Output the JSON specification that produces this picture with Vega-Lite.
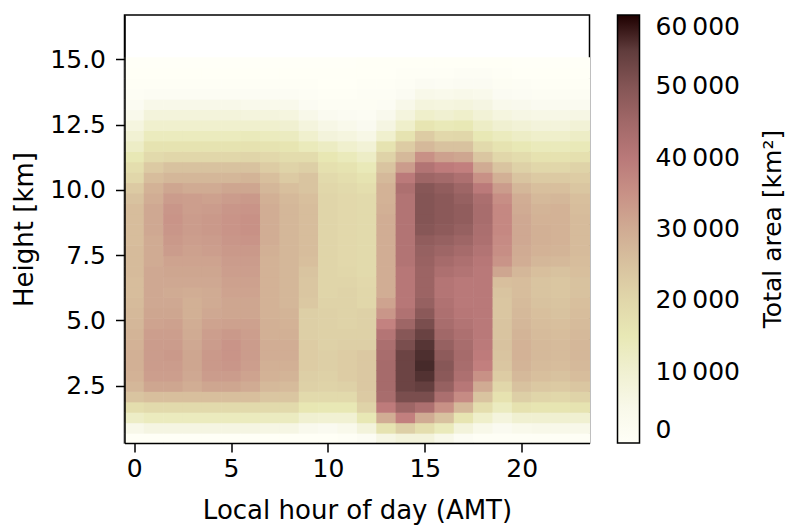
{
"$schema": "https://vega.github.io/schema/vega-lite/v6.json",
"width": 465, "height": 428,
"autosize": "none",
"padding": {"left": 124.5, "top": 15, "right": 214.5, "bottom": 84},
"background": "white",
"config": {
 "font": "DejaVu Sans",
 "view": {"stroke": "black", "strokeWidth": 1.5},
 "axis": {"grid": false, "domainColor": "black", "domainWidth": 1.5, "tickColor": "black", "tickWidth": 1.5, "tickSize": 9, "labelFontSize": 25, "labelColor": "black", "titleFontSize": 26, "titleColor": "black", "titleFontWeight": "normal", "labelFont": "DejaVu Sans", "titleFont": "DejaVu Sans"}
},
"data": {"values": [
{"hour":0,"height":0.5,"area":500},{"hour":0,"height":0.9,"area":5000},{"hour":0,"height":1.3,"area":12000},{"hour":0,"height":1.7,"area":18000},{"hour":0,"height":2.1,"area":24500},{"hour":0,"height":2.5,"area":27500},{"hour":0,"height":2.9,"area":28500},{"hour":0,"height":3.3,"area":29000},{"hour":0,"height":3.7,"area":29000},{"hour":0,"height":4.1,"area":28500},{"hour":0,"height":4.5,"area":28000},{"hour":0,"height":4.9,"area":27500},{"hour":0,"height":5.3,"area":27000},{"hour":0,"height":5.7,"area":26500},{"hour":0,"height":6.1,"area":26000},{"hour":0,"height":6.5,"area":26000},{"hour":0,"height":6.9,"area":26500},{"hour":0,"height":7.3,"area":26500},{"hour":0,"height":7.7,"area":26500},{"hour":0,"height":8.1,"area":26000},{"hour":0,"height":8.5,"area":26000},{"hour":0,"height":8.9,"area":26000},{"hour":0,"height":9.3,"area":26000},{"hour":0,"height":9.7,"area":25000},{"hour":0,"height":10.1,"area":23000},{"hour":0,"height":10.5,"area":20000},{"hour":0,"height":10.9,"area":18000},{"hour":0,"height":11.3,"area":15000},{"hour":0,"height":11.7,"area":12000},{"hour":0,"height":12.1,"area":9500},{"hour":0,"height":12.5,"area":7000},{"hour":0,"height":12.9,"area":4500},{"hour":0,"height":13.3,"area":3000},{"hour":0,"height":13.7,"area":1500},{"hour":0,"height":14.1,"area":800},{"hour":0,"height":14.5,"area":300},{"hour":0,"height":14.9,"area":0},
{"hour":1,"height":0.5,"area":500},{"hour":1,"height":0.9,"area":6500},{"hour":1,"height":1.3,"area":13500},{"hour":1,"height":1.7,"area":19000},{"hour":1,"height":2.1,"area":25500},{"hour":1,"height":2.5,"area":31000},{"hour":1,"height":2.9,"area":32500},{"hour":1,"height":3.3,"area":33000},{"hour":1,"height":3.7,"area":33000},{"hour":1,"height":4.1,"area":33000},{"hour":1,"height":4.5,"area":32500},{"hour":1,"height":4.9,"area":31500},{"hour":1,"height":5.3,"area":31000},{"hour":1,"height":5.7,"area":30500},{"hour":1,"height":6.1,"area":30500},{"hour":1,"height":6.5,"area":30500},{"hour":1,"height":6.9,"area":30500},{"hour":1,"height":7.3,"area":30000},{"hour":1,"height":7.7,"area":30000},{"hour":1,"height":8.1,"area":30000},{"hour":1,"height":8.5,"area":30500},{"hour":1,"height":8.9,"area":30500},{"hour":1,"height":9.3,"area":30500},{"hour":1,"height":9.7,"area":29500},{"hour":1,"height":10.1,"area":28500},{"hour":1,"height":10.5,"area":26000},{"hour":1,"height":10.9,"area":23000},{"hour":1,"height":11.3,"area":19000},{"hour":1,"height":11.7,"area":16500},{"hour":1,"height":12.1,"area":13500},{"hour":1,"height":12.5,"area":10500},{"hour":1,"height":12.9,"area":8000},{"hour":1,"height":13.3,"area":5000},{"hour":1,"height":13.7,"area":2500},{"hour":1,"height":14.1,"area":1000},{"hour":1,"height":14.5,"area":300},{"hour":1,"height":14.9,"area":0},
{"hour":2,"height":0.5,"area":500},{"hour":2,"height":0.9,"area":6500},{"hour":2,"height":1.3,"area":13500},{"hour":2,"height":1.7,"area":19000},{"hour":2,"height":2.1,"area":25500},{"hour":2,"height":2.5,"area":31000},{"hour":2,"height":2.9,"area":32500},{"hour":2,"height":3.3,"area":33000},{"hour":2,"height":3.7,"area":33500},{"hour":2,"height":4.1,"area":33000},{"hour":2,"height":4.5,"area":32500},{"hour":2,"height":4.9,"area":32000},{"hour":2,"height":5.3,"area":31000},{"hour":2,"height":5.7,"area":30500},{"hour":2,"height":6.1,"area":30000},{"hour":2,"height":6.5,"area":30500},{"hour":2,"height":6.9,"area":31000},{"hour":2,"height":7.3,"area":31500},{"hour":2,"height":7.7,"area":33000},{"hour":2,"height":8.1,"area":33500},{"hour":2,"height":8.5,"area":34000},{"hour":2,"height":8.9,"area":34500},{"hour":2,"height":9.3,"area":34000},{"hour":2,"height":9.7,"area":33000},{"hour":2,"height":10.1,"area":31000},{"hour":2,"height":10.5,"area":27500},{"hour":2,"height":10.9,"area":25000},{"hour":2,"height":11.3,"area":20000},{"hour":2,"height":11.7,"area":16500},{"hour":2,"height":12.1,"area":13500},{"hour":2,"height":12.5,"area":10500},{"hour":2,"height":12.9,"area":8000},{"hour":2,"height":13.3,"area":5000},{"hour":2,"height":13.7,"area":2500},{"hour":2,"height":14.1,"area":1000},{"hour":2,"height":14.5,"area":300},{"hour":2,"height":14.9,"area":0},
{"hour":3,"height":0.5,"area":500},{"hour":3,"height":0.9,"area":6500},{"hour":3,"height":1.3,"area":13500},{"hour":3,"height":1.7,"area":19000},{"hour":3,"height":2.1,"area":25500},{"hour":3,"height":2.5,"area":29500},{"hour":3,"height":2.9,"area":30500},{"hour":3,"height":3.3,"area":31000},{"hour":3,"height":3.7,"area":31000},{"hour":3,"height":4.1,"area":30500},{"hour":3,"height":4.5,"area":30000},{"hour":3,"height":4.9,"area":29500},{"hour":3,"height":5.3,"area":29000},{"hour":3,"height":5.7,"area":29000},{"hour":3,"height":6.1,"area":29500},{"hour":3,"height":6.5,"area":30500},{"hour":3,"height":6.9,"area":31000},{"hour":3,"height":7.3,"area":31500},{"hour":3,"height":7.7,"area":32000},{"hour":3,"height":8.1,"area":32500},{"hour":3,"height":8.5,"area":33000},{"hour":3,"height":8.9,"area":33000},{"hour":3,"height":9.3,"area":32500},{"hour":3,"height":9.7,"area":32500},{"hour":3,"height":10.1,"area":30000},{"hour":3,"height":10.5,"area":27500},{"hour":3,"height":10.9,"area":25000},{"hour":3,"height":11.3,"area":20000},{"hour":3,"height":11.7,"area":16500},{"hour":3,"height":12.1,"area":13500},{"hour":3,"height":12.5,"area":10500},{"hour":3,"height":12.9,"area":8000},{"hour":3,"height":13.3,"area":5000},{"hour":3,"height":13.7,"area":2500},{"hour":3,"height":14.1,"area":1000},{"hour":3,"height":14.5,"area":300},{"hour":3,"height":14.9,"area":0},
{"hour":4,"height":0.5,"area":500},{"hour":4,"height":0.9,"area":6500},{"hour":4,"height":1.3,"area":13500},{"hour":4,"height":1.7,"area":19000},{"hour":4,"height":2.1,"area":25500},{"hour":4,"height":2.5,"area":31000},{"hour":4,"height":2.9,"area":33000},{"hour":4,"height":3.3,"area":33500},{"hour":4,"height":3.7,"area":33500},{"hour":4,"height":4.1,"area":33000},{"hour":4,"height":4.5,"area":32500},{"hour":4,"height":4.9,"area":31500},{"hour":4,"height":5.3,"area":30500},{"hour":4,"height":5.7,"area":30000},{"hour":4,"height":6.1,"area":30000},{"hour":4,"height":6.5,"area":30500},{"hour":4,"height":6.9,"area":31000},{"hour":4,"height":7.3,"area":31500},{"hour":4,"height":7.7,"area":32500},{"hour":4,"height":8.1,"area":33000},{"hour":4,"height":8.5,"area":33500},{"hour":4,"height":8.9,"area":33500},{"hour":4,"height":9.3,"area":33000},{"hour":4,"height":9.7,"area":32000},{"hour":4,"height":10.1,"area":30000},{"hour":4,"height":10.5,"area":27500},{"hour":4,"height":10.9,"area":25000},{"hour":4,"height":11.3,"area":20000},{"hour":4,"height":11.7,"area":16500},{"hour":4,"height":12.1,"area":13500},{"hour":4,"height":12.5,"area":10500},{"hour":4,"height":12.9,"area":8000},{"hour":4,"height":13.3,"area":5000},{"hour":4,"height":13.7,"area":2500},{"hour":4,"height":14.1,"area":1000},{"hour":4,"height":14.5,"area":300},{"hour":4,"height":14.9,"area":0},
{"hour":5,"height":0.5,"area":500},{"hour":5,"height":0.9,"area":6500},{"hour":5,"height":1.3,"area":13500},{"hour":5,"height":1.7,"area":19000},{"hour":5,"height":2.1,"area":25500},{"hour":5,"height":2.5,"area":31000},{"hour":5,"height":2.9,"area":33000},{"hour":5,"height":3.3,"area":34000},{"hour":5,"height":3.7,"area":34500},{"hour":5,"height":4.1,"area":34500},{"hour":5,"height":4.5,"area":33500},{"hour":5,"height":4.9,"area":32000},{"hour":5,"height":5.3,"area":31000},{"hour":5,"height":5.7,"area":31000},{"hour":5,"height":6.1,"area":31500},{"hour":5,"height":6.5,"area":32000},{"hour":5,"height":6.9,"area":32500},{"hour":5,"height":7.3,"area":33000},{"hour":5,"height":7.7,"area":33500},{"hour":5,"height":8.1,"area":34000},{"hour":5,"height":8.5,"area":34500},{"hour":5,"height":8.9,"area":34500},{"hour":5,"height":9.3,"area":34000},{"hour":5,"height":9.7,"area":33000},{"hour":5,"height":10.1,"area":31000},{"hour":5,"height":10.5,"area":27500},{"hour":5,"height":10.9,"area":25000},{"hour":5,"height":11.3,"area":20000},{"hour":5,"height":11.7,"area":16500},{"hour":5,"height":12.1,"area":13500},{"hour":5,"height":12.5,"area":10500},{"hour":5,"height":12.9,"area":8000},{"hour":5,"height":13.3,"area":5000},{"hour":5,"height":13.7,"area":2500},{"hour":5,"height":14.1,"area":1000},{"hour":5,"height":14.5,"area":300},{"hour":5,"height":14.9,"area":0},
{"hour":6,"height":0.5,"area":500},{"hour":6,"height":0.9,"area":6500},{"hour":6,"height":1.3,"area":13500},{"hour":6,"height":1.7,"area":19000},{"hour":6,"height":2.1,"area":25500},{"hour":6,"height":2.5,"area":30000},{"hour":6,"height":2.9,"area":31500},{"hour":6,"height":3.3,"area":32500},{"hour":6,"height":3.7,"area":33000},{"hour":6,"height":4.1,"area":33000},{"hour":6,"height":4.5,"area":32500},{"hour":6,"height":4.9,"area":32000},{"hour":6,"height":5.3,"area":31000},{"hour":6,"height":5.7,"area":31000},{"hour":6,"height":6.1,"area":31500},{"hour":6,"height":6.5,"area":32000},{"hour":6,"height":6.9,"area":32500},{"hour":6,"height":7.3,"area":33000},{"hour":6,"height":7.7,"area":33500},{"hour":6,"height":8.1,"area":34500},{"hour":6,"height":8.5,"area":35000},{"hour":6,"height":8.9,"area":35000},{"hour":6,"height":9.3,"area":34500},{"hour":6,"height":9.7,"area":33500},{"hour":6,"height":10.1,"area":31000},{"hour":6,"height":10.5,"area":28000},{"hour":6,"height":10.9,"area":25000},{"hour":6,"height":11.3,"area":20500},{"hour":6,"height":11.7,"area":17000},{"hour":6,"height":12.1,"area":14000},{"hour":6,"height":12.5,"area":10500},{"hour":6,"height":12.9,"area":7500},{"hour":6,"height":13.3,"area":4500},{"hour":6,"height":13.7,"area":2500},{"hour":6,"height":14.1,"area":1000},{"hour":6,"height":14.5,"area":300},{"hour":6,"height":14.9,"area":0},
{"hour":7,"height":0.5,"area":500},{"hour":7,"height":0.9,"area":6000},{"hour":7,"height":1.3,"area":13000},{"hour":7,"height":1.7,"area":19000},{"hour":7,"height":2.1,"area":24000},{"hour":7,"height":2.5,"area":27000},{"hour":7,"height":2.9,"area":28500},{"hour":7,"height":3.3,"area":29000},{"hour":7,"height":3.7,"area":29500},{"hour":7,"height":4.1,"area":29500},{"hour":7,"height":4.5,"area":29000},{"hour":7,"height":4.9,"area":29000},{"hour":7,"height":5.3,"area":28500},{"hour":7,"height":5.7,"area":28500},{"hour":7,"height":6.1,"area":28500},{"hour":7,"height":6.5,"area":28500},{"hour":7,"height":6.9,"area":28500},{"hour":7,"height":7.3,"area":28500},{"hour":7,"height":7.7,"area":29000},{"hour":7,"height":8.1,"area":29500},{"hour":7,"height":8.5,"area":29500},{"hour":7,"height":8.9,"area":29500},{"hour":7,"height":9.3,"area":29500},{"hour":7,"height":9.7,"area":29000},{"hour":7,"height":10.1,"area":27500},{"hour":7,"height":10.5,"area":25500},{"hour":7,"height":10.9,"area":22500},{"hour":7,"height":11.3,"area":19500},{"hour":7,"height":11.7,"area":16500},{"hour":7,"height":12.1,"area":13500},{"hour":7,"height":12.5,"area":10500},{"hour":7,"height":12.9,"area":7500},{"hour":7,"height":13.3,"area":4500},{"hour":7,"height":13.7,"area":2500},{"hour":7,"height":14.1,"area":1000},{"hour":7,"height":14.5,"area":300},{"hour":7,"height":14.9,"area":0},
{"hour":8,"height":0.5,"area":500},{"hour":8,"height":0.9,"area":6000},{"hour":8,"height":1.3,"area":13000},{"hour":8,"height":1.7,"area":19000},{"hour":8,"height":2.1,"area":24000},{"hour":8,"height":2.5,"area":26500},{"hour":8,"height":2.9,"area":28000},{"hour":8,"height":3.3,"area":29000},{"hour":8,"height":3.7,"area":29500},{"hour":8,"height":4.1,"area":29500},{"hour":8,"height":4.5,"area":29000},{"hour":8,"height":4.9,"area":28500},{"hour":8,"height":5.3,"area":28000},{"hour":8,"height":5.7,"area":27500},{"hour":8,"height":6.1,"area":27500},{"hour":8,"height":6.5,"area":27500},{"hour":8,"height":6.9,"area":27500},{"hour":8,"height":7.3,"area":27500},{"hour":8,"height":7.7,"area":27500},{"hour":8,"height":8.1,"area":27500},{"hour":8,"height":8.5,"area":27500},{"hour":8,"height":8.9,"area":27500},{"hour":8,"height":9.3,"area":27500},{"hour":8,"height":9.7,"area":27000},{"hour":8,"height":10.1,"area":25500},{"hour":8,"height":10.5,"area":23000},{"hour":8,"height":10.9,"area":21000},{"hour":8,"height":11.3,"area":18500},{"hour":8,"height":11.7,"area":16000},{"hour":8,"height":12.1,"area":13000},{"hour":8,"height":12.5,"area":10000},{"hour":8,"height":12.9,"area":7000},{"hour":8,"height":13.3,"area":4500},{"hour":8,"height":13.7,"area":2500},{"hour":8,"height":14.1,"area":1000},{"hour":8,"height":14.5,"area":300},{"hour":8,"height":14.9,"area":0},
{"hour":9,"height":0.5,"area":500},{"hour":9,"height":0.9,"area":4000},{"hour":9,"height":1.3,"area":10000},{"hour":9,"height":1.7,"area":15500},{"hour":9,"height":2.1,"area":19000},{"hour":9,"height":2.5,"area":21500},{"hour":9,"height":2.9,"area":22000},{"hour":9,"height":3.3,"area":22500},{"hour":9,"height":3.7,"area":22500},{"hour":9,"height":4.1,"area":22500},{"hour":9,"height":4.5,"area":22000},{"hour":9,"height":4.9,"area":22000},{"hour":9,"height":5.3,"area":22000},{"hour":9,"height":5.7,"area":23500},{"hour":9,"height":6.1,"area":24000},{"hour":9,"height":6.5,"area":24000},{"hour":9,"height":6.9,"area":24500},{"hour":9,"height":7.3,"area":25500},{"hour":9,"height":7.7,"area":26000},{"hour":9,"height":8.1,"area":26000},{"hour":9,"height":8.5,"area":26000},{"hour":9,"height":8.9,"area":26000},{"hour":9,"height":9.3,"area":26000},{"hour":9,"height":9.7,"area":25500},{"hour":9,"height":10.1,"area":24500},{"hour":9,"height":10.5,"area":24500},{"hour":9,"height":10.9,"area":22000},{"hour":9,"height":11.3,"area":18500},{"hour":9,"height":11.7,"area":14000},{"hour":9,"height":12.1,"area":10500},{"hour":9,"height":12.5,"area":7500},{"hour":9,"height":12.9,"area":5000},{"hour":9,"height":13.3,"area":3000},{"hour":9,"height":13.7,"area":1500},{"hour":9,"height":14.1,"area":700},{"hour":9,"height":14.5,"area":200},{"hour":9,"height":14.9,"area":0},
{"hour":10,"height":0.5,"area":500},{"hour":10,"height":0.9,"area":3500},{"hour":10,"height":1.3,"area":9500},{"hour":10,"height":1.7,"area":15000},{"hour":10,"height":2.1,"area":19000},{"hour":10,"height":2.5,"area":21000},{"hour":10,"height":2.9,"area":21500},{"hour":10,"height":3.3,"area":22000},{"hour":10,"height":3.7,"area":22000},{"hour":10,"height":4.1,"area":21500},{"hour":10,"height":4.5,"area":21500},{"hour":10,"height":4.9,"area":21500},{"hour":10,"height":5.3,"area":21500},{"hour":10,"height":5.7,"area":21000},{"hour":10,"height":6.1,"area":20500},{"hour":10,"height":6.5,"area":20500},{"hour":10,"height":6.9,"area":20500},{"hour":10,"height":7.3,"area":20500},{"hour":10,"height":7.7,"area":20500},{"hour":10,"height":8.1,"area":20500},{"hour":10,"height":8.5,"area":20500},{"hour":10,"height":8.9,"area":20500},{"hour":10,"height":9.3,"area":20500},{"hour":10,"height":9.7,"area":20500},{"hour":10,"height":10.1,"area":20000},{"hour":10,"height":10.5,"area":19000},{"hour":10,"height":10.9,"area":17500},{"hour":10,"height":11.3,"area":15500},{"hour":10,"height":11.7,"area":12500},{"hour":10,"height":12.1,"area":8000},{"hour":10,"height":12.5,"area":5500},{"hour":10,"height":12.9,"area":3500},{"hour":10,"height":13.3,"area":2000},{"hour":10,"height":13.7,"area":1200},{"hour":10,"height":14.1,"area":600},{"hour":10,"height":14.5,"area":200},{"hour":10,"height":14.9,"area":0},
{"hour":11,"height":0.5,"area":1000},{"hour":11,"height":0.9,"area":4500},{"hour":11,"height":1.3,"area":9500},{"hour":11,"height":1.7,"area":15000},{"hour":11,"height":2.1,"area":19000},{"hour":11,"height":2.5,"area":21500},{"hour":11,"height":2.9,"area":22500},{"hour":11,"height":3.3,"area":22500},{"hour":11,"height":3.7,"area":22500},{"hour":11,"height":4.1,"area":22000},{"hour":11,"height":4.5,"area":21500},{"hour":11,"height":4.9,"area":21000},{"hour":11,"height":5.3,"area":21000},{"hour":11,"height":5.7,"area":21000},{"hour":11,"height":6.1,"area":21000},{"hour":11,"height":6.5,"area":20500},{"hour":11,"height":6.9,"area":20000},{"hour":11,"height":7.3,"area":19500},{"hour":11,"height":7.7,"area":19500},{"hour":11,"height":8.1,"area":19500},{"hour":11,"height":8.5,"area":19500},{"hour":11,"height":8.9,"area":19500},{"hour":11,"height":9.3,"area":19500},{"hour":11,"height":9.7,"area":19500},{"hour":11,"height":10.1,"area":19000},{"hour":11,"height":10.5,"area":18000},{"hour":11,"height":10.9,"area":16500},{"hour":11,"height":11.3,"area":14000},{"hour":11,"height":11.7,"area":10500},{"hour":11,"height":12.1,"area":7000},{"hour":11,"height":12.5,"area":4500},{"hour":11,"height":12.9,"area":3000},{"hour":11,"height":13.3,"area":2000},{"hour":11,"height":13.7,"area":1200},{"hour":11,"height":14.1,"area":600},{"hour":11,"height":14.5,"area":200},{"hour":11,"height":14.9,"area":0},
{"hour":12,"height":0.5,"area":2500},{"hour":12,"height":0.9,"area":8000},{"hour":12,"height":1.3,"area":15000},{"hour":12,"height":1.7,"area":21000},{"hour":12,"height":2.1,"area":23000},{"hour":12,"height":2.5,"area":23500},{"hour":12,"height":2.9,"area":23500},{"hour":12,"height":3.3,"area":23500},{"hour":12,"height":3.7,"area":23500},{"hour":12,"height":4.1,"area":22000},{"hour":12,"height":4.5,"area":21500},{"hour":12,"height":4.9,"area":21500},{"hour":12,"height":5.3,"area":21500},{"hour":12,"height":5.7,"area":20000},{"hour":12,"height":6.1,"area":20000},{"hour":12,"height":6.5,"area":19500},{"hour":12,"height":6.9,"area":19000},{"hour":12,"height":7.3,"area":19000},{"hour":12,"height":7.7,"area":19000},{"hour":12,"height":8.1,"area":19000},{"hour":12,"height":8.5,"area":19000},{"hour":12,"height":8.9,"area":19000},{"hour":12,"height":9.3,"area":19000},{"hour":12,"height":9.7,"area":19000},{"hour":12,"height":10.1,"area":18000},{"hour":12,"height":10.5,"area":16500},{"hour":12,"height":10.9,"area":14500},{"hour":12,"height":11.3,"area":12000},{"hour":12,"height":11.7,"area":9000},{"hour":12,"height":12.1,"area":5500},{"hour":12,"height":12.5,"area":3500},{"hour":12,"height":12.9,"area":2500},{"hour":12,"height":13.3,"area":2000},{"hour":12,"height":13.7,"area":1500},{"hour":12,"height":14.1,"area":1000},{"hour":12,"height":14.5,"area":400},{"hour":12,"height":14.9,"area":100},
{"hour":13,"height":0.5,"area":6000},{"hour":13,"height":0.9,"area":16500},{"hour":13,"height":1.3,"area":29500},{"hour":13,"height":1.7,"area":39000},{"hour":13,"height":2.1,"area":43500},{"hour":13,"height":2.5,"area":44000},{"hour":13,"height":2.9,"area":44000},{"hour":13,"height":3.3,"area":44000},{"hour":13,"height":3.7,"area":43500},{"hour":13,"height":4.1,"area":43000},{"hour":13,"height":4.5,"area":41000},{"hour":13,"height":4.9,"area":37500},{"hour":13,"height":5.3,"area":34000},{"hour":13,"height":5.7,"area":31500},{"hour":13,"height":6.1,"area":29500},{"hour":13,"height":6.5,"area":29500},{"hour":13,"height":6.9,"area":29500},{"hour":13,"height":7.3,"area":29500},{"hour":13,"height":7.7,"area":29500},{"hour":13,"height":8.1,"area":29500},{"hour":13,"height":8.5,"area":29500},{"hour":13,"height":8.9,"area":29500},{"hour":13,"height":9.3,"area":29000},{"hour":13,"height":9.7,"area":28500},{"hour":13,"height":10.1,"area":28500},{"hour":13,"height":10.5,"area":27000},{"hour":13,"height":10.9,"area":24500},{"hour":13,"height":11.3,"area":21000},{"hour":13,"height":11.7,"area":16500},{"hour":13,"height":12.1,"area":10500},{"hour":13,"height":12.5,"area":6500},{"hour":13,"height":12.9,"area":4000},{"hour":13,"height":13.3,"area":2500},{"hour":13,"height":13.7,"area":1500},{"hour":13,"height":14.1,"area":800},{"hour":13,"height":14.5,"area":300},{"hour":13,"height":14.9,"area":100},
{"hour":14,"height":0.5,"area":8000},{"hour":14,"height":0.9,"area":22000},{"hour":14,"height":1.3,"area":38000},{"hour":14,"height":1.7,"area":45500},{"hour":14,"height":2.1,"area":51500},{"hour":14,"height":2.5,"area":53500},{"hour":14,"height":2.9,"area":53500},{"hour":14,"height":3.3,"area":53500},{"hour":14,"height":3.7,"area":53500},{"hour":14,"height":4.1,"area":51500},{"hour":14,"height":4.5,"area":49500},{"hour":14,"height":4.9,"area":45500},{"hour":14,"height":5.3,"area":42000},{"hour":14,"height":5.7,"area":40500},{"hour":14,"height":6.1,"area":40500},{"hour":14,"height":6.5,"area":40500},{"hour":14,"height":6.9,"area":40500},{"hour":14,"height":7.3,"area":41500},{"hour":14,"height":7.7,"area":41500},{"hour":14,"height":8.1,"area":41500},{"hour":14,"height":8.5,"area":41500},{"hour":14,"height":8.9,"area":41500},{"hour":14,"height":9.3,"area":41500},{"hour":14,"height":9.7,"area":41500},{"hour":14,"height":10.1,"area":42500},{"hour":14,"height":10.5,"area":39500},{"hour":14,"height":10.9,"area":33000},{"hour":14,"height":11.3,"area":27000},{"hour":14,"height":11.7,"area":22500},{"hour":14,"height":12.1,"area":16500},{"hour":14,"height":12.5,"area":11000},{"hour":14,"height":12.9,"area":7500},{"hour":14,"height":13.3,"area":5000},{"hour":14,"height":13.7,"area":3000},{"hour":14,"height":14.1,"area":1800},{"hour":14,"height":14.5,"area":700},{"hour":14,"height":14.9,"area":200},
{"hour":15,"height":0.5,"area":8000},{"hour":15,"height":0.9,"area":18000},{"hour":15,"height":1.3,"area":30000},{"hour":15,"height":1.7,"area":42500},{"hour":15,"height":2.1,"area":51500},{"hour":15,"height":2.5,"area":54500},{"hour":15,"height":2.9,"area":56500},{"hour":15,"height":3.3,"area":57500},{"hour":15,"height":3.7,"area":57000},{"hour":15,"height":4.1,"area":56000},{"hour":15,"height":4.5,"area":54000},{"hour":15,"height":4.9,"area":51500},{"hour":15,"height":5.3,"area":49000},{"hour":15,"height":5.7,"area":47000},{"hour":15,"height":6.1,"area":46000},{"hour":15,"height":6.5,"area":46000},{"hour":15,"height":6.9,"area":46000},{"hour":15,"height":7.3,"area":46500},{"hour":15,"height":7.7,"area":47000},{"hour":15,"height":8.1,"area":48000},{"hour":15,"height":8.5,"area":49500},{"hour":15,"height":8.9,"area":50000},{"hour":15,"height":9.3,"area":50000},{"hour":15,"height":9.7,"area":50000},{"hour":15,"height":10.1,"area":49500},{"hour":15,"height":10.5,"area":45500},{"hour":15,"height":10.9,"area":41500},{"hour":15,"height":11.3,"area":35000},{"hour":15,"height":11.7,"area":27000},{"hour":15,"height":12.1,"area":22500},{"hour":15,"height":12.5,"area":16000},{"hour":15,"height":12.9,"area":11000},{"hour":15,"height":13.3,"area":7500},{"hour":15,"height":13.7,"area":5000},{"hour":15,"height":14.1,"area":3000},{"hour":15,"height":14.5,"area":1200},{"hour":15,"height":14.9,"area":400},
{"hour":16,"height":0.5,"area":5000},{"hour":16,"height":0.9,"area":14000},{"hour":16,"height":1.3,"area":25000},{"hour":16,"height":1.7,"area":35000},{"hour":16,"height":2.1,"area":43000},{"hour":16,"height":2.5,"area":47000},{"hour":16,"height":2.9,"area":49000},{"hour":16,"height":3.3,"area":49500},{"hour":16,"height":3.7,"area":48500},{"hour":16,"height":4.1,"area":47000},{"hour":16,"height":4.5,"area":45000},{"hour":16,"height":4.9,"area":43500},{"hour":16,"height":5.3,"area":42500},{"hour":16,"height":5.7,"area":42000},{"hour":16,"height":6.1,"area":41000},{"hour":16,"height":6.5,"area":41000},{"hour":16,"height":6.9,"area":42500},{"hour":16,"height":7.3,"area":44000},{"hour":16,"height":7.7,"area":45500},{"hour":16,"height":8.1,"area":47000},{"hour":16,"height":8.5,"area":48500},{"hour":16,"height":8.9,"area":49000},{"hour":16,"height":9.3,"area":49000},{"hour":16,"height":9.7,"area":49000},{"hour":16,"height":10.1,"area":48000},{"hour":16,"height":10.5,"area":44500},{"hour":16,"height":10.9,"area":39000},{"hour":16,"height":11.3,"area":32000},{"hour":16,"height":11.7,"area":25000},{"hour":16,"height":12.1,"area":19500},{"hour":16,"height":12.5,"area":14500},{"hour":16,"height":12.9,"area":10000},{"hour":16,"height":13.3,"area":7000},{"hour":16,"height":13.7,"area":4500},{"hour":16,"height":14.1,"area":2500},{"hour":16,"height":14.5,"area":1000},{"hour":16,"height":14.9,"area":300},
{"hour":17,"height":0.5,"area":2500},{"hour":17,"height":0.9,"area":8000},{"hour":17,"height":1.3,"area":16000},{"hour":17,"height":1.7,"area":27000},{"hour":17,"height":2.1,"area":36000},{"hour":17,"height":2.5,"area":40500},{"hour":17,"height":2.9,"area":42500},{"hour":17,"height":3.3,"area":43500},{"hour":17,"height":3.7,"area":44000},{"hour":17,"height":4.1,"area":43500},{"hour":17,"height":4.5,"area":42500},{"hour":17,"height":4.9,"area":41500},{"hour":17,"height":5.3,"area":40500},{"hour":17,"height":5.7,"area":40000},{"hour":17,"height":6.1,"area":40000},{"hour":17,"height":6.5,"area":40000},{"hour":17,"height":6.9,"area":41500},{"hour":17,"height":7.3,"area":42500},{"hour":17,"height":7.7,"area":44000},{"hour":17,"height":8.1,"area":45500},{"hour":17,"height":8.5,"area":47000},{"hour":17,"height":8.9,"area":48000},{"hour":17,"height":9.3,"area":48000},{"hour":17,"height":9.7,"area":47000},{"hour":17,"height":10.1,"area":45500},{"hour":17,"height":10.5,"area":42500},{"hour":17,"height":10.9,"area":38000},{"hour":17,"height":11.3,"area":31000},{"hour":17,"height":11.7,"area":25000},{"hour":17,"height":12.1,"area":20000},{"hour":17,"height":12.5,"area":15000},{"hour":17,"height":12.9,"area":11000},{"hour":17,"height":13.3,"area":7500},{"hour":17,"height":13.7,"area":5000},{"hour":17,"height":14.1,"area":3000},{"hour":17,"height":14.5,"area":1500},{"hour":17,"height":14.9,"area":500},
{"hour":18,"height":0.5,"area":1000},{"hour":18,"height":0.9,"area":5000},{"hour":18,"height":1.3,"area":11000},{"hour":18,"height":1.7,"area":18000},{"hour":18,"height":2.1,"area":24500},{"hour":18,"height":2.5,"area":30000},{"hour":18,"height":2.9,"area":35000},{"hour":18,"height":3.3,"area":38000},{"hour":18,"height":3.7,"area":39000},{"hour":18,"height":4.1,"area":39500},{"hour":18,"height":4.5,"area":40000},{"hour":18,"height":4.9,"area":40000},{"hour":18,"height":5.3,"area":40000},{"hour":18,"height":5.7,"area":40000},{"hour":18,"height":6.1,"area":40000},{"hour":18,"height":6.5,"area":40000},{"hour":18,"height":6.9,"area":40000},{"hour":18,"height":7.3,"area":40500},{"hour":18,"height":7.7,"area":41500},{"hour":18,"height":8.1,"area":42500},{"hour":18,"height":8.5,"area":43000},{"hour":18,"height":8.9,"area":43500},{"hour":18,"height":9.3,"area":43500},{"hour":18,"height":9.7,"area":43000},{"hour":18,"height":10.1,"area":39500},{"hour":18,"height":10.5,"area":35000},{"hour":18,"height":10.9,"area":30000},{"hour":18,"height":11.3,"area":24000},{"hour":18,"height":11.7,"area":19000},{"hour":18,"height":12.1,"area":15000},{"hour":18,"height":12.5,"area":12000},{"hour":18,"height":12.9,"area":9000},{"hour":18,"height":13.3,"area":6500},{"hour":18,"height":13.7,"area":4500},{"hour":18,"height":14.1,"area":3000},{"hour":18,"height":14.5,"area":1500},{"hour":18,"height":14.9,"area":500},
{"hour":19,"height":0.5,"area":800},{"hour":19,"height":0.9,"area":3500},{"hour":19,"height":1.3,"area":7500},{"hour":19,"height":1.7,"area":13000},{"hour":19,"height":2.1,"area":17000},{"hour":19,"height":2.5,"area":20000},{"hour":19,"height":2.9,"area":22500},{"hour":19,"height":3.3,"area":24000},{"hour":19,"height":3.7,"area":24500},{"hour":19,"height":4.1,"area":25000},{"hour":19,"height":4.5,"area":24500},{"hour":19,"height":4.9,"area":24500},{"hour":19,"height":5.3,"area":24000},{"hour":19,"height":5.7,"area":24000},{"hour":19,"height":6.1,"area":24500},{"hour":19,"height":6.5,"area":25500},{"hour":19,"height":6.9,"area":31000},{"hour":19,"height":7.3,"area":34500},{"hour":19,"height":7.7,"area":35500},{"hour":19,"height":8.1,"area":36000},{"hour":19,"height":8.5,"area":36500},{"hour":19,"height":8.9,"area":36500},{"hour":19,"height":9.3,"area":36500},{"hour":19,"height":9.7,"area":35500},{"hour":19,"height":10.1,"area":33000},{"hour":19,"height":10.5,"area":29000},{"hour":19,"height":10.9,"area":24500},{"hour":19,"height":11.3,"area":20000},{"hour":19,"height":11.7,"area":16500},{"hour":19,"height":12.1,"area":13500},{"hour":19,"height":12.5,"area":10000},{"hour":19,"height":12.9,"area":7000},{"hour":19,"height":13.3,"area":4500},{"hour":19,"height":13.7,"area":3000},{"hour":19,"height":14.1,"area":2000},{"hour":19,"height":14.5,"area":1000},{"hour":19,"height":14.9,"area":300},
{"hour":20,"height":0.5,"area":1000},{"hour":20,"height":0.9,"area":4500},{"hour":20,"height":1.3,"area":10000},{"hour":20,"height":1.7,"area":17000},{"hour":20,"height":2.1,"area":22000},{"hour":20,"height":2.5,"area":25000},{"hour":20,"height":2.9,"area":27000},{"hour":20,"height":3.3,"area":28000},{"hour":20,"height":3.7,"area":28500},{"hour":20,"height":4.1,"area":28500},{"hour":20,"height":4.5,"area":28000},{"hour":20,"height":4.9,"area":27500},{"hour":20,"height":5.3,"area":27000},{"hour":20,"height":5.7,"area":26500},{"hour":20,"height":6.1,"area":26000},{"hour":20,"height":6.5,"area":26000},{"hour":20,"height":6.9,"area":27500},{"hour":20,"height":7.3,"area":29500},{"hour":20,"height":7.7,"area":30000},{"hour":20,"height":8.1,"area":30500},{"hour":20,"height":8.5,"area":30500},{"hour":20,"height":8.9,"area":30500},{"hour":20,"height":9.3,"area":30000},{"hour":20,"height":9.7,"area":29500},{"hour":20,"height":10.1,"area":27500},{"hour":20,"height":10.5,"area":24500},{"hour":20,"height":10.9,"area":21500},{"hour":20,"height":11.3,"area":18500},{"hour":20,"height":11.7,"area":15000},{"hour":20,"height":12.1,"area":12000},{"hour":20,"height":12.5,"area":9000},{"hour":20,"height":12.9,"area":6000},{"hour":20,"height":13.3,"area":4000},{"hour":20,"height":13.7,"area":2500},{"hour":20,"height":14.1,"area":1500},{"hour":20,"height":14.5,"area":500},{"hour":20,"height":14.9,"area":0},
{"hour":21,"height":0.5,"area":1000},{"hour":21,"height":0.9,"area":5000},{"hour":21,"height":1.3,"area":10000},{"hour":21,"height":1.7,"area":16000},{"hour":21,"height":2.1,"area":20500},{"hour":21,"height":2.5,"area":23500},{"hour":21,"height":2.9,"area":25500},{"hour":21,"height":3.3,"area":26500},{"hour":21,"height":3.7,"area":27000},{"hour":21,"height":4.1,"area":27000},{"hour":21,"height":4.5,"area":26500},{"hour":21,"height":4.9,"area":26000},{"hour":21,"height":5.3,"area":25500},{"hour":21,"height":5.7,"area":25000},{"hour":21,"height":6.1,"area":24500},{"hour":21,"height":6.5,"area":24500},{"hour":21,"height":6.9,"area":25500},{"hour":21,"height":7.3,"area":27500},{"hour":21,"height":7.7,"area":28500},{"hour":21,"height":8.1,"area":29000},{"hour":21,"height":8.5,"area":29000},{"hour":21,"height":8.9,"area":28500},{"hour":21,"height":9.3,"area":28000},{"hour":21,"height":9.7,"area":27000},{"hour":21,"height":10.1,"area":25500},{"hour":21,"height":10.5,"area":23000},{"hour":21,"height":10.9,"area":20000},{"hour":21,"height":11.3,"area":17000},{"hour":21,"height":11.7,"area":14000},{"hour":21,"height":12.1,"area":11000},{"hour":21,"height":12.5,"area":8000},{"hour":21,"height":12.9,"area":5500},{"hour":21,"height":13.3,"area":3500},{"hour":21,"height":13.7,"area":2000},{"hour":21,"height":14.1,"area":1000},{"hour":21,"height":14.5,"area":300},{"hour":21,"height":14.9,"area":0},
{"hour":22,"height":0.5,"area":1000},{"hour":22,"height":0.9,"area":5000},{"hour":22,"height":1.3,"area":10000},{"hour":22,"height":1.7,"area":16000},{"hour":22,"height":2.1,"area":20000},{"hour":22,"height":2.5,"area":23000},{"hour":22,"height":2.9,"area":25000},{"hour":22,"height":3.3,"area":26000},{"hour":22,"height":3.7,"area":26500},{"hour":22,"height":4.1,"area":26500},{"hour":22,"height":4.5,"area":26000},{"hour":22,"height":4.9,"area":25500},{"hour":22,"height":5.3,"area":25000},{"hour":22,"height":5.7,"area":24500},{"hour":22,"height":6.1,"area":24000},{"hour":22,"height":6.5,"area":24000},{"hour":22,"height":6.9,"area":25000},{"hour":22,"height":7.3,"area":27000},{"hour":22,"height":7.7,"area":28000},{"hour":22,"height":8.1,"area":28500},{"hour":22,"height":8.5,"area":28500},{"hour":22,"height":8.9,"area":28500},{"hour":22,"height":9.3,"area":28500},{"hour":22,"height":9.7,"area":27500},{"hour":22,"height":10.1,"area":25500},{"hour":22,"height":10.5,"area":23000},{"hour":22,"height":10.9,"area":20000},{"hour":22,"height":11.3,"area":17000},{"hour":22,"height":11.7,"area":14000},{"hour":22,"height":12.1,"area":11000},{"hour":22,"height":12.5,"area":8000},{"hour":22,"height":12.9,"area":5500},{"hour":22,"height":13.3,"area":3500},{"hour":22,"height":13.7,"area":2000},{"hour":22,"height":14.1,"area":1000},{"hour":22,"height":14.5,"area":300},{"hour":22,"height":14.9,"area":0},
{"hour":23,"height":0.5,"area":1000},{"hour":23,"height":0.9,"area":5000},{"hour":23,"height":1.3,"area":10000},{"hour":23,"height":1.7,"area":16500},{"hour":23,"height":2.1,"area":21000},{"hour":23,"height":2.5,"area":24000},{"hour":23,"height":2.9,"area":26000},{"hour":23,"height":3.3,"area":27000},{"hour":23,"height":3.7,"area":27500},{"hour":23,"height":4.1,"area":27500},{"hour":23,"height":4.5,"area":27000},{"hour":23,"height":4.9,"area":26500},{"hour":23,"height":5.3,"area":26000},{"hour":23,"height":5.7,"area":25500},{"hour":23,"height":6.1,"area":25000},{"hour":23,"height":6.5,"area":25000},{"hour":23,"height":6.9,"area":25500},{"hour":23,"height":7.3,"area":26000},{"hour":23,"height":7.7,"area":26500},{"hour":23,"height":8.1,"area":26500},{"hour":23,"height":8.5,"area":26500},{"hour":23,"height":8.9,"area":26500},{"hour":23,"height":9.3,"area":26000},{"hour":23,"height":9.7,"area":25500},{"hour":23,"height":10.1,"area":24000},{"hour":23,"height":10.5,"area":22500},{"hour":23,"height":10.9,"area":21000},{"hour":23,"height":11.3,"area":17500},{"hour":23,"height":11.7,"area":14500},{"hour":23,"height":12.1,"area":12000},{"hour":23,"height":12.5,"area":9000},{"hour":23,"height":12.9,"area":6000},{"hour":23,"height":13.3,"area":3500},{"hour":23,"height":13.7,"area":2000},{"hour":23,"height":14.1,"area":1000},{"hour":23,"height":14.5,"area":300},{"hour":23,"height":14.9,"area":0}
]},
"mark": {"type": "rect", "binSpacing": 0, "x2Offset": -0.6, "y2Offset": 0.6},
"encoding": {
 "x": {"field": "hour", "type": "quantitative", "bin": {"step": 1, "anchor": -0.5, "extent": [-0.5, 23.5], "nice": false},
  "scale": {"domain": [-0.5, 23.5], "nice": false, "zero": false},
  "axis": {"values": [0, 5, 10, 15, 20], "format": "d", "labelPadding": 4, "titlePadding": 16, "labelFlush": false},
  "title": "Local hour of day (AMT)"},
 "y": {"field": "height", "type": "quantitative", "bin": {"step": 0.4, "anchor": 0.3, "extent": [0.3, 16.7], "nice": false},
  "scale": {"domain": [0.3, 16.7], "nice": false, "zero": false},
  "axis": {"values": [2.5, 5, 7.5, 10, 12.5, 15], "format": ".1f", "labelPadding": 10, "titlePadding": 12, "labelFlush": false},
  "title": "Height [km]"},
 "color": {"field": "area", "type": "quantitative",
  "scale": {"domain": [0, 3000, 6000, 9000, 12000, 15240, 18000, 21000, 24000, 27000, 30000, 33000, 36000, 38100, 40200, 42000, 45000, 48000, 51000, 54000, 57000, 58800, 60000],
   "range": ["#ffffff", "#fbfbf2", "#f6f6e4", "#f2f2d6", "#ededc6", "#e8e8b4", "#e4deae", "#dfd3a8", "#dac6a1", "#d5b99a", "#d0ab93", "#cb9c8c", "#c68b84", "#c27e7e", "#b87878", "#b07272", "#a16868", "#915d5d", "#7e5151", "#694242", "#4d2f2f", "#361d1d", "#1e0000"]},
  "legend": {"type": "gradient", "orient": "right", "offset": 28, "padding": 0, "direction": "vertical",
   "gradientLength": 428, "gradientThickness": 22, "gradientStrokeColor": "black", "gradientStrokeWidth": 1.5,
   "values": [0, 10000, 20000, 30000, 40000, 50000, 60000],
   "labelExpr": "replace(format(datum.value, ','), ',', '\u2009')",
   "labelFontSize": 25, "labelColor": "black", "labelFont": "DejaVu Sans", "labelOffset": 16, "labelOverlap": false, "labelBaseline": "middle",
   "title": "Total area [km²]", "titleOrient": "right", "titleAnchor": "middle", "titleFontSize": 25, "titleFontWeight": "normal", "titleColor": "black", "titleFont": "DejaVu Sans", "titlePadding": 20, "titleLimit": 1000,
   "encoding": {"title": {"angle": {"value": -90}, "baseline": {"value": "top"}}}}
 }
}
}
